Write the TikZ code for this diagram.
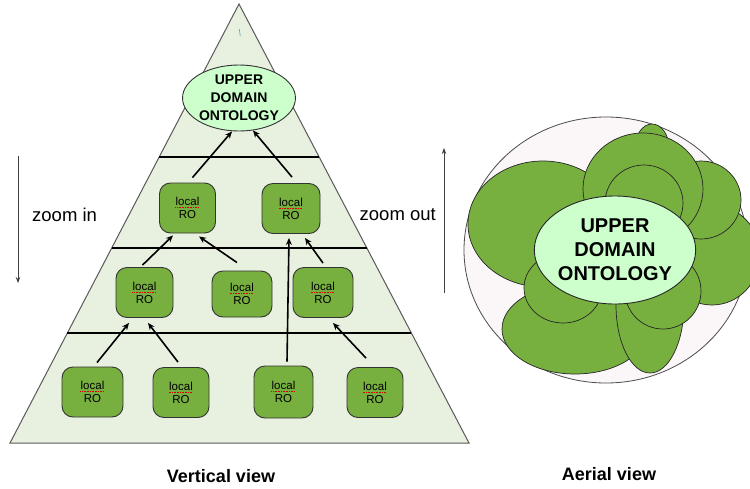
\documentclass[tikz,border=0pt]{standalone}
\usepackage{fontspec}
\setmainfont{Liberation Sans}
\usetikzlibrary{arrows.meta,calc,shapes.geometric}

\definecolor{pyrfill}{HTML}{E8F1E0}
\definecolor{leaf}{HTML}{77B03F}
\definecolor{core}{HTML}{CCFFCC}
\definecolor{dish}{HTML}{FBF6F8}
\definecolor{edgegray}{HTML}{333333}

% red dotted spelling mark under a word
\newlength\markwd
\newcommand{\marked}[1]{\settowidth\markwd{#1}#1\llap{\tikz[baseline=0pt]\draw[red!85!black, densely dotted, line width=0.6pt] (0pt,-1.8pt) -- (\markwd,-1.8pt);}}

\tikzset{
  ro/.style={draw=edgegray, line width=0.9pt, fill=leaf, rounded corners=11pt,
    minimum width=56pt, minimum height=50pt, inner sep=0pt, align=center,
    font=\fontsize{11.5}{13}\selectfont},
  uplink/.style={line width=1.6pt, -{Stealth[length=7pt,width=6pt]}},
  level/.style={line width=1.6pt},
  blob/.style={draw=black!85, line width=0.7pt, fill=leaf},
  zoomarrow/.style={draw=black!75, line width=0.8pt, -{Stealth[length=6pt,width=4.5pt]}},
  caption/.style={font=\fontsize{18}{20}\selectfont\bfseries},
  side/.style={font=\fontsize{18.5}{20}\selectfont},
}

\begin{document}
\begin{tikzpicture}[x=1pt, y=-1pt]
\useasboundingbox (0,0) rectangle (750,488);
\fill[white] (0,0) rectangle (750,488);

% ---------- pyramid ----------
\coordinate (apex) at (239,4);
\coordinate (bl) at (10,443);
\coordinate (br) at (469,443);
\draw[draw=black!65, line width=1pt, fill=pyrfill] (apex) -- (br) -- (bl) -- cycle;
\draw[teal!70, line width=0.6pt] (239.3,29) -- (240.3,36);

% level separators
\foreach \t/\n in {0.3485/1, 0.5558/2, 0.7494/3} {
  \coordinate (l\n) at ($(apex)!\t!(bl)$);
  \coordinate (r\n) at ($(apex)!\t!(br)$);
  \draw[level] (l\n) -- (r\n);
}

\node[ellipse, draw=edgegray, line width=0.9pt, fill=core, minimum width=96pt,
  minimum height=66pt, inner sep=0pt, align=center,
  font=\fontsize{14}{18}\selectfont\bfseries] (ell) at (239,98) {UPPER\\DOMAIN\\ONTOLOGY};

\node[ro] (b1) at (187.5,208) {\marked{local}\\RO};
\node[ro, minimum width=58pt] (b2) at (291,208.5) {\marked{local}\\RO};
\node[ro, minimum width=57pt] (b3) at (144.5,292.5) {\marked{local}\\RO};
\node[ro, minimum width=60pt, minimum height=46pt] (b4) at (242,294) {\marked{local}\\RO};
\node[ro, minimum width=60pt] (b5) at (323,292.5) {\marked{local}\\RO};
\node[ro, minimum width=61pt] (b6) at (92.5,392) {\marked{local}\\RO};
\node[ro] (b7) at (181,392.5) {\marked{local}\\RO};
\node[ro, minimum width=59pt, minimum height=52pt] (b8) at (283.5,392) {\marked{local}\\RO};
\node[ro] (b9) at (375,392.5) {\marked{local}\\RO};

% links towards the upper ontology
\draw[uplink] ([xshift=5pt,yshift=5pt]b1.north) -- ([xshift=-7pt,yshift=0pt]ell.south);
\draw[uplink] ([xshift=1pt,yshift=6pt]b2.north) -- ([xshift=14pt,yshift=1pt]ell.south);
\draw[uplink] ([xshift=-2pt,yshift=2pt]b3.north) -- ([xshift=-14.5pt,yshift=-2pt]b1.south);
\draw[uplink] ([xshift=-5pt,yshift=8pt]b4.north) -- ([xshift=11.5pt,yshift=-3pt]b1.south);
\draw[uplink] ([xshift=3.5pt,yshift=4pt]b8.north) -- ([xshift=-2pt,yshift=-4pt]b2.south);
\draw[uplink] ([xshift=0pt,yshift=4pt]b5.north) -- ([xshift=14pt,yshift=-4pt]b2.south);
\draw[uplink] ([xshift=4.5pt,yshift=4pt]b6.north) -- ([xshift=-15.5pt,yshift=-5pt]b3.south);
\draw[uplink] ([xshift=-3pt,yshift=5pt]b7.north) -- ([xshift=3.5pt,yshift=-5pt]b3.south);
\draw[uplink] ([xshift=-9pt,yshift=9pt]b9.north) -- ([xshift=10pt,yshift=-5pt]b5.south);

% zoom direction arrows
\coordinate (zinA) at (18,156);
\coordinate (zinB) at (18,283);
\draw[zoomarrow] (zinA) -- (zinB);
\node[side, anchor=west, inner sep=0pt] (zin) at (32,215) {zoom in};
\coordinate (zoutA) at (444,293);
\coordinate (zoutB) at (444,148);
\draw[zoomarrow] (zoutA) -- (zoutB);
\node[side, anchor=east, inner sep=0pt] (zout) at (436,215) {zoom out};

% ---------- aerial view ----------
\draw[draw=black!70, line width=0.8pt, fill=dish] (606,250) ellipse [x radius=142pt, y radius=133pt];
\draw[blob] (652,148) ellipse [x radius=17pt, y radius=24pt];
\draw[blob] (543,224) ellipse [x radius=75pt, y radius=63pt];
\draw[blob] (712,255) ellipse [x radius=48pt, y radius=50pt];
\draw[blob] (701,200) ellipse [x radius=40pt, y radius=39pt];
\draw[blob] (643,189) ellipse [x radius=60pt, y radius=56pt];
\draw[blob] (644,203) ellipse [x radius=39pt, y radius=38pt];
\draw[blob] (575,329) ellipse [x radius=73pt, y radius=45pt];
\draw[blob] (650,305) ellipse [x radius=34pt, y radius=68pt];
\draw[blob] (563,288) ellipse [x radius=39pt, y radius=35pt];
\draw[blob] (663,291) ellipse [x radius=38pt, y radius=38pt];
\node[ellipse, draw=black!85, line width=0.9pt, fill=core, minimum width=156pt,
  minimum height=108pt, inner sep=0pt, align=center,
  font=\fontsize{20}{24}\selectfont\bfseries] (core) at (615,250) {UPPER\\DOMAIN\\ONTOLOGY};

% captions
\node[caption] (vcap) at (221,476) {Vertical view};
\node[caption] (acap) at (609,474) {Aerial view};
\end{tikzpicture}
\end{document}
